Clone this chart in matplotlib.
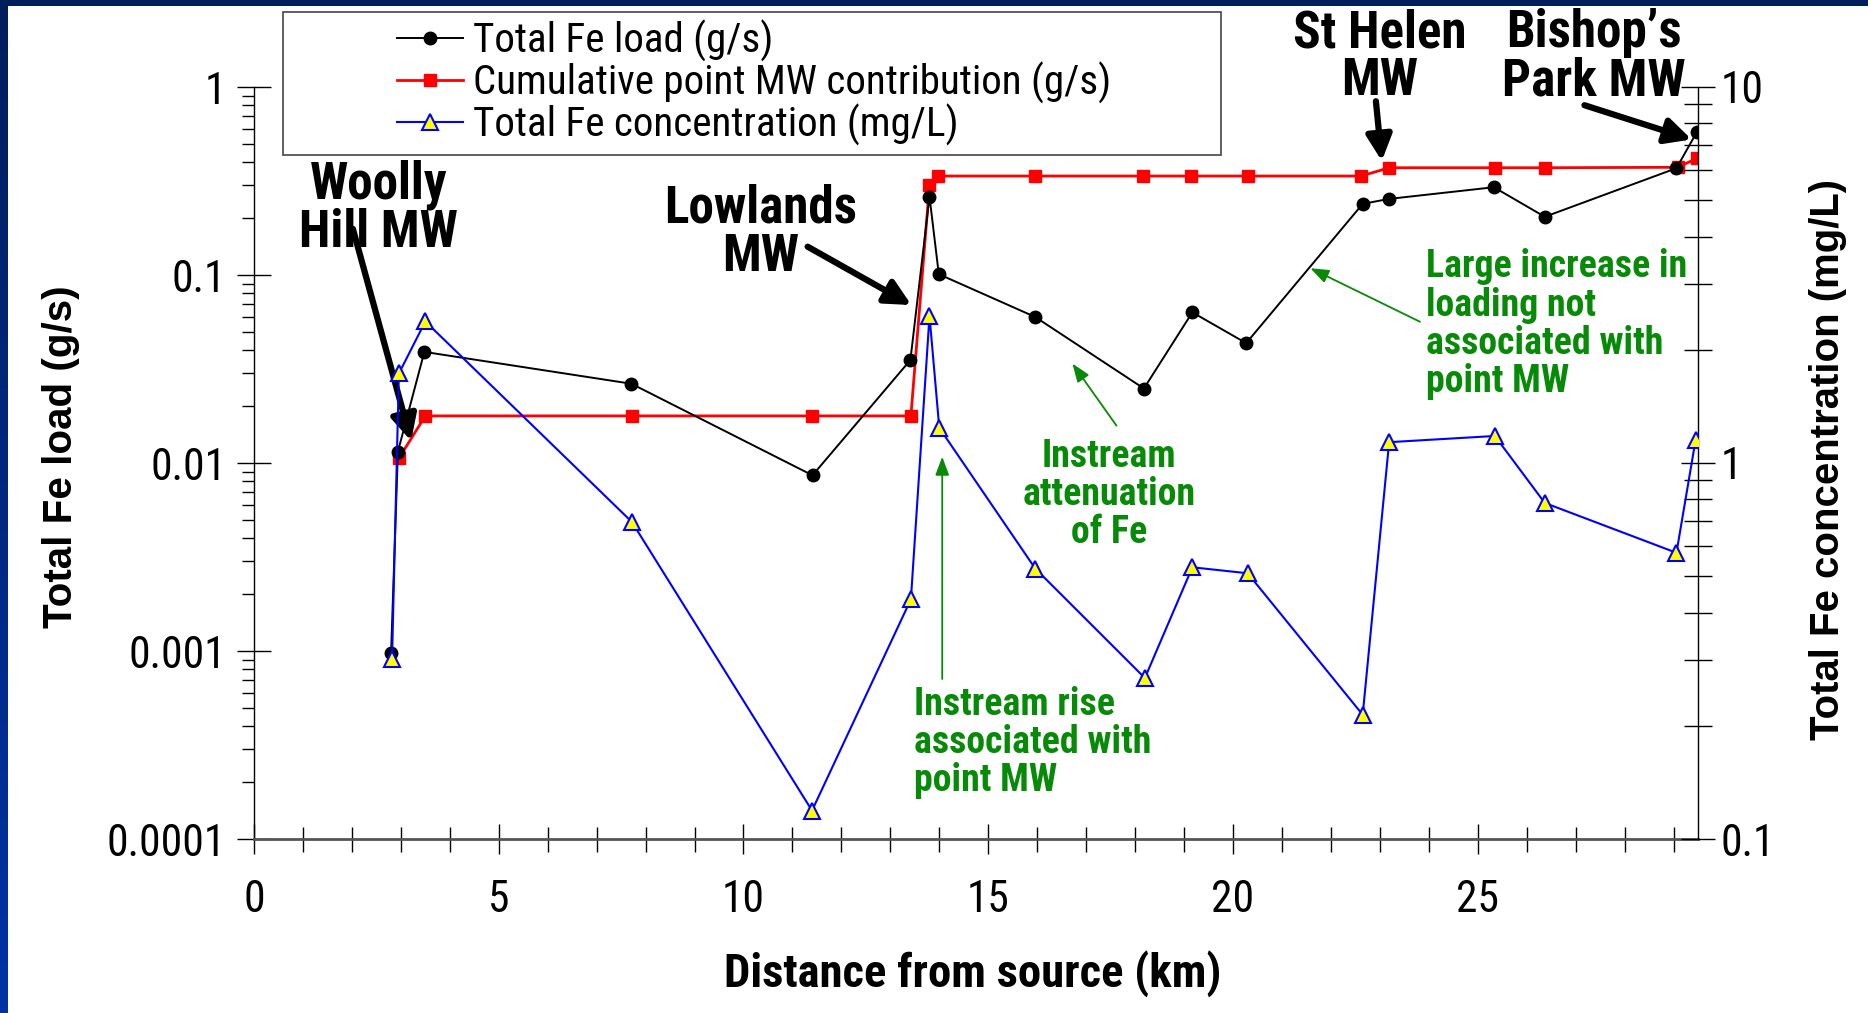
import numpy as np
import matplotlib
matplotlib.use("Agg")
import matplotlib.pyplot as plt
from matplotlib.patches import Rectangle
from matplotlib.font_manager import fontManager, FontProperties
from matplotlib.ticker import LogLocator, FixedLocator, NullFormatter, FuncFormatter

# distance from source (km) and values
km_load = [2.80, 2.94, 3.48, 7.71, 11.41, 13.41, 13.80, 13.99, 15.96, 18.18,
           19.17, 20.27, 22.65, 23.19, 25.33, 26.37, 29.06, 29.48]
fe_load = [0.00097, 0.0115, 0.039, 0.0264, 0.0086, 0.0353, 0.261, 0.101, 0.0598, 0.0249,
           0.0633, 0.0434, 0.239, 0.254, 0.293, 0.204, 0.37, 0.578]

km_mw = [2.96, 3.50, 7.72, 11.40, 13.42, 13.80, 13.98, 15.96, 18.17, 19.15,
         20.30, 22.62, 23.19, 25.35, 26.37, 29.09, 29.48]
mw_load = [0.0106, 0.0178, 0.0178, 0.0178, 0.0178, 0.301, 0.336, 0.336, 0.336, 0.336,
           0.336, 0.336, 0.372, 0.372, 0.372, 0.374, 0.418]

km_conc = [2.82, 2.96, 3.50, 7.72, 11.40, 13.42, 13.80, 14.00, 15.96, 18.20,
           19.17, 20.30, 22.65, 23.19, 25.35, 26.37, 29.06, 29.45]
fe_conc = [0.301, 1.73, 2.38, 0.697, 0.119, 0.434, 2.46, 1.24, 0.524, 0.268,
           0.528, 0.509, 0.214, 1.136, 1.18, 0.783, 0.577, 1.15]

labels = ["Total Fe load (g/s)", "Cumulative point MW contribution (g/s)",
          "Total Fe concentration (mg/L)"]

green = "#078a07"


# the original chart was squeezed sideways, so horizontal text is narrow:
# look for an installed narrow / condensed sans font
def narrow_file(bold):
    prefs = ["Liberation Sans Narrow", "Arial Narrow", "Roboto Condensed", "DejaVu Sans",
             "DejaVu Sans Condensed", "Noto Sans", "Noto Sans Condensed", "Open Sans",
             "Open Sans Condensed"]
    for p in prefs:
        for f in fontManager.ttflist:
            cond = (f.stretch in ("condensed", "semi-condensed")
                    or "Narrow" in f.name or "Condensed" in f.name)
            w = f.weight if isinstance(f.weight, int) else (700 if f.weight == "bold" else 400)
            if f.name == p and cond and f.style == "normal" and ((w >= 600) == bold) \
                    and w in (400, 700):
                return f.fname
    return None


def narrow_fp(bold=False):
    fn = narrow_file(bold)
    if fn:
        return FontProperties(fname=fn)
    return FontProperties(family="Liberation Sans", weight="bold" if bold else "normal")


reg = narrow_fp(False)
bld = narrow_fp(True)
wide_bold = FontProperties(family="Liberation Sans", weight="bold")

fig = plt.figure(figsize=(18.68, 10.13), dpi=100)
fig.patch.set_facecolor("white")
renderer = fig.canvas.get_renderer()


def size_for(s, fp, target, vertical=False):
    # font size that makes the text s about target pixels long
    t = fig.text(0, 0, s, fontproperties=fp, fontsize=30)
    bb = t.get_window_extent(renderer)
    t.remove()
    return 30 * target / (bb.height if vertical else bb.width)


def with_size(fp, size):
    f = fp.copy()
    f.set_size(size)
    return f


tick_fp = with_size(reg, size_for("0.0001", reg, 119))
leg_fp = with_size(reg, size_for(labels[1], reg, 639))
big_fp = with_size(bld, size_for("Lowlands", bld, 193))
small_fp = with_size(bld, size_for("Large increase in", bld, 261))
xl_fp = with_size(bld, size_for("Distance from source (km)", bld, 499))
yl_fp = with_size(wide_bold, size_for("Total Fe load (g/s)", wide_bold, 343))
yr_fp = with_size(wide_bold, size_for("Total Fe concentration (mg/L)", wide_bold, 562))

# blue slide frame (top bar + left gradient strip)
top = fig.add_axes([0, 1 - 6 / 1013, 1, 6 / 1013])
top.set_facecolor("#001e5c")
top.set_xticks([]); top.set_yticks([])
for s in top.spines.values():
    s.set_visible(False)
side = fig.add_axes([0, 0, 8 / 1868, 1])
grad = np.linspace(0, 1, 256).reshape(-1, 1)
side.imshow(grad, aspect="auto", cmap=matplotlib.colors.LinearSegmentedColormap.from_list(
    "b", ["#001e5c", "#0033a6"]), extent=[0, 1, 0, 1])
side.axis("off")

ax = fig.add_axes([254 / 1868, 1 - 839 / 1013, (1698 - 254) / 1868, (839 - 87) / 1013])
ax2 = ax.twinx()

l1, = ax.plot(km_load, fe_load, color="black", lw=1.4, marker="o", ms=9, zorder=4)
l2, = ax.plot(km_mw, mw_load, color="red", lw=2, marker="s", ms=9, zorder=3)
l3, = ax2.plot(km_conc, fe_conc, color="blue", lw=1.5, marker="^", ms=11,
               mfc="yellow", mec="blue", mew=1.5, zorder=3)

ax.set_xlim(0, 29.5)
ax.set_yscale("log")
ax.set_ylim(0.0001, 1)
ax2.set_yscale("log")
ax2.set_ylim(0.1, 10)

for a in (ax, ax2):
    a.patch.set_visible(False)
    a.spines["top"].set_visible(False)
ax.spines["right"].set_visible(False)
ax.spines["left"].set_linewidth(1.0)
ax.spines["bottom"].set_color("#555555")
ax.spines["bottom"].set_linewidth(2)
ax2.spines["left"].set_visible(False)
ax2.spines["bottom"].set_visible(False)
ax2.spines["right"].set_linewidth(1.0)

ax.xaxis.set_major_locator(FixedLocator([0, 5, 10, 15, 20, 25]))
ax.xaxis.set_minor_locator(FixedLocator(list(range(1, 30))))
ax.tick_params(axis="x", which="major", direction="inout", length=22, width=1, pad=18)
ax.tick_params(axis="x", which="minor", direction="inout", length=18, width=1)

ax.yaxis.set_major_locator(LogLocator(base=10, numticks=10))
ax.yaxis.set_minor_locator(LogLocator(base=10, subs=np.arange(2, 10), numticks=10))
ax.yaxis.set_minor_formatter(NullFormatter())
ax.yaxis.set_major_formatter(FuncFormatter(lambda v, p: "{:g}".format(v)))
ax.tick_params(axis="y", which="major", direction="inout", length=24, width=1, pad=8)
ax.tick_params(axis="y", which="minor", direction="out", length=9, width=1)

ax2.yaxis.set_major_locator(LogLocator(base=10, numticks=10))
ax2.yaxis.set_minor_locator(LogLocator(base=10, subs=np.arange(2, 10), numticks=10))
ax2.yaxis.set_minor_formatter(NullFormatter())
ax2.yaxis.set_major_formatter(FuncFormatter(lambda v, p: "{:g}".format(v)))
ax2.tick_params(axis="y", which="major", direction="inout", length=24, width=1, pad=4)
ax2.tick_params(axis="y", which="minor", direction="inout", length=20, width=1)

for t in ax.get_xticklabels() + ax.get_yticklabels() + ax2.get_yticklabels():
    t.set_fontproperties(tick_fp)

ax.set_xlabel("Distance from source (km)", fontproperties=xl_fp)
ax.xaxis.set_label_coords(0.498, -0.147)
ax.set_ylabel("Total Fe load (g/s)", fontproperties=yl_fp)
ax.yaxis.set_label_coords(-0.1206, 0.508)
ax2.set_ylabel("Total Fe concentration (mg/L)", fontproperties=yr_fp)
ax2.yaxis.set_label_coords(1.077, 0.505)

# legend box
fig.patches.append(Rectangle((283 / 1868, 1 - 155 / 1013), (1221 - 283) / 1868, 143 / 1013,
                             transform=fig.transFigure, fill=False, ec="#444444", lw=1.2))
lpx = leg_fp.get_size_in_points() * 100 / 72
fig.legend([l1, l2, l3], labels, loc="upper left",
           bbox_to_anchor=(397 / 1868, 1 - (45 - 0.62 * lpx) / 1013),
           frameon=False, prop=leg_fp, handlelength=66 / lpx,
           handletextpad=10 / lpx, labelspacing=max(0.0, (47 - 1.16 * lpx) / lpx),
           borderpad=0, borderaxespad=0)

# black labels with thick arrows
big = dict(fontproperties=big_fp, color="black", ha="center", va="center", linespacing=0.96)
thick = dict(arrowstyle="-|>,head_length=0.7,head_width=0.35", lw=4.5, color="black",
             mutation_scale=22, shrinkA=0, shrinkB=0)
ax.text(2.55, 0.225, "Woolly\nHill MW", **big)
ax.annotate("", xy=(3.21, 0.0131), xytext=(2.02, 0.176), arrowprops=thick)
ax.text(10.34, 0.1685, "Lowlands\nMW", **big)
ax.annotate("", xy=(13.43, 0.0692), xytext=(11.31, 0.1415), arrowprops=thick)
ax.text(22.99, 1.44, "St Helen\nMW", **big)
ax.annotate("", xy=(23.04, 0.404), xytext=(22.92, 0.84), arrowprops=thick)
ax.text(27.37, 1.44, "Bishop\u2019s\nPark MW", **big)
ax.annotate("", xy=(29.37, 0.526), xytext=(27.18, 0.80), arrowprops=thick)

# green comments with thin arrows
small = dict(fontproperties=small_fp, color=green, va="center", linespacing=1.04)
thin = dict(arrowstyle="-|>,head_length=0.8,head_width=0.3", lw=1.3, color=green,
            mutation_scale=14, shrinkA=0, shrinkB=0)
ax.text(13.48, 0.000326, "Instream rise\nassociated with\npoint MW", ha="left", **small)
ax.annotate("", xy=(14.06, 0.0108), xytext=(14.06, 0.00071), arrowprops=thin)
ax.text(17.47, 0.00679, "Instream\nattenuation\nof Fe", ha="center", multialignment="center",
        **small)
ax.annotate("", xy=(16.72, 0.0338), xytext=(17.62, 0.0158), arrowprops=thin)
ax.text(23.94, 0.0548, "Large increase in\nloading not\nassociated with\npoint MW", ha="left",
        **small)
ax.annotate("", xy=(21.58, 0.1087), xytext=(23.82, 0.0564), arrowprops=thin)

fig.savefig("out.png", dpi=100)
